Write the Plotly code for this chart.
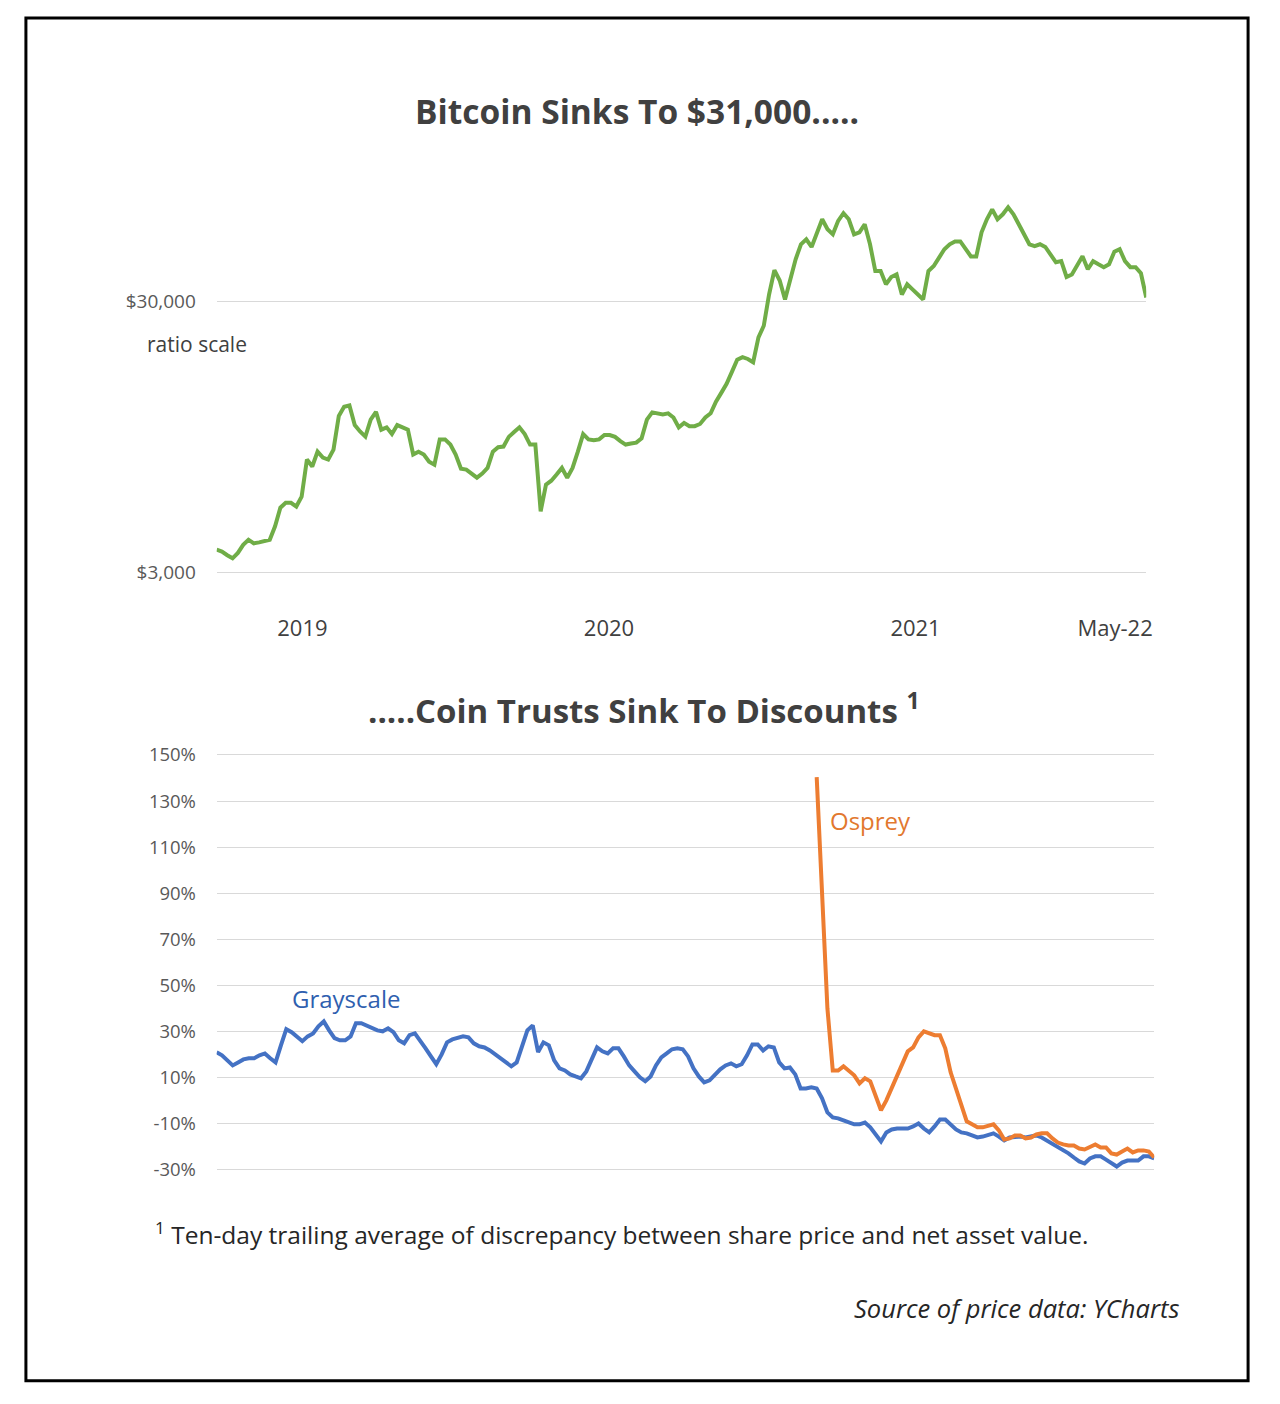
import plotly.graph_objects as go
import pandas as pd

# ---------------- data ----------------
weeks = pd.date_range("2019-01-03", periods=176, freq="7D")

bitcoin = [
    3650, 3590, 3480, 3390, 3550, 3800, 3970, 3850, 3880, 3930,
    3970, 4450, 5210, 5430, 5430, 5260, 5720, 7840, 7390, 8380,
    7970, 7840, 8530, 11350, 12260, 12400, 10500, 9950, 9520, 11000,
    11750, 10100, 10300, 9730, 10500, 10300, 10100, 8180, 8380, 8180,
    7700, 7500, 9300, 9300, 8900, 8180, 7250, 7200, 6960, 6720,
    6960, 7300, 8380, 8700, 8750, 9500, 9900, 10300, 9730, 8900,
    8900, 5050, 6330, 6550, 6900, 7300, 6720, 7300, 8380, 9730,
    9300, 9230, 9300, 9650, 9650, 9500, 9160, 8900, 8980, 9050,
    9380, 11000, 11700, 11600, 11500, 11600, 11200, 10300, 10700, 10400,
    10400, 10600, 11200, 11600, 12800, 13800, 14900, 16500, 18300, 18700,
    18400, 17900, 22100, 24400, 31800, 39100, 35800, 30500, 35800, 42900,
    48700, 50800, 47600, 53000, 60200, 55300, 53000, 59400, 63400, 60200,
    53000, 53900, 57700, 48700, 38800, 38800, 34700, 36900, 37700, 31800,
    34700, 33200, 31800, 30500, 38800, 40500, 43500, 46700, 48700, 49900,
    49900, 46700, 43900, 43900, 53900, 60200, 65500, 60200, 62800, 66600,
    62800, 57700, 53000, 48700, 47900, 48700, 47600, 44300, 41800, 42200,
    36900, 37700, 41100, 44000, 39400, 42200, 41100, 40100, 41100, 45700,
    46700, 42200, 40100, 40100, 38100, 31000,
]

grayscale = [
    20.9, 19.6, 17.4, 15.2, 16.5, 17.8, 18.3, 18.3, 19.6, 20.4,
    18.3, 16.5, 23.9, 30.9, 29.6, 27.4, 25.7, 27.8, 29.1, 32.2,
    34.3, 30.4, 27.0, 26.1, 26.1, 27.8, 33.5, 33.5, 32.6, 31.3,
    30.4, 30.0, 31.3, 29.6, 26.1, 24.8, 28.3, 29.1, 26.1, 22.6,
    19.1, 15.7, 20.0, 25.2, 26.5, 27.0, 27.8, 27.4, 24.8, 23.5,
    23.0, 21.7, 20.0, 18.7, 16.5, 14.8, 16.5, 23.9, 30.4, 32.6,
    21.0, 25.2, 23.9, 17.4, 13.9, 13.0, 11.3, 10.4, 9.6, 12.6,
    18.3, 23.0, 21.3, 20.4, 22.6, 22.6, 19.1, 15.2, 12.6, 10.0,
    8.3, 10.4, 15.2, 18.7, 20.4, 22.2, 22.6, 22.2, 19.1, 13.9,
    10.4, 7.8, 8.7, 11.3, 13.5, 15.2, 16.1, 14.8, 15.7, 19.6,
    24.3, 24.3, 21.7, 23.5, 23.0, 16.5, 13.9, 14.3, 11.3, 5.2,
    5.2, 5.7, 5.2, 0.9, -5.2, -7.4, -7.8, -8.7, -9.6, -10.4,
    -10.4, -9.6, -11.7, -14.8, -17.8, -13.9, -12.6, -12.2, -12.2, -12.2,
    -11.3, -10.0, -12.2, -13.9, -11.3, -8.3, -8.3, -10.4, -12.6, -13.9,
    -14.3, -15.2, -16.1, -15.7, -14.8, -14.3, -15.7, -17.4, -16.1, -15.7,
    -15.7, -16.1, -15.7, -15.2, -16.1, -17.4, -18.7, -20.0, -21.3, -23.0,
    -24.8, -26.5, -27.4, -25.2, -24.3, -24.3, -25.7, -27.4, -28.7, -27.0,
    -26.1, -26.1, -26.1, -24.3, -24.3, -25.2,
]

osprey_start = 112
osprey = [
    140.4, 90.0, 40.0, 13.0, 13.0, 14.8, 12.6, 10.9, 7.4, 9.6,
    8.3, 2.2, -4.3, 0.0, 5.2, 10.0, 15.7, 21.3, 23.0, 27.4,
    30.0, 29.1, 28.3, 28.3, 22.6, 12.2, 5.2, -2.2, -9.1, -10.4,
    -11.7, -11.7, -10.9, -10.4, -13.0, -17.0, -16.5, -15.2, -15.2, -16.5,
    -16.1, -14.8, -14.3, -14.3, -16.5, -18.3, -19.1, -19.6, -19.6, -20.9,
    -21.3, -20.0, -19.1, -20.4, -20.4, -23.0, -23.5, -22.2, -20.9, -22.6,
    -21.7, -21.7, -22.2, -24.8,
]

price_ticks = [3000, 30000]
price_tick_labels = ["$3,000", "$30,000"]
year_tick_dates = ["2019-04-26", "2020-06-03", "2021-07-12", "2022-04-01"]
year_tick_labels = ["2019", "2020", "2021", "May-22"]
pct_ticks = [-30, -10, 10, 30, 50, 70, 90, 110, 130, 150]
pct_tick_labels = [f"{v}%" for v in pct_ticks]

# ---------------- figure ----------------
# page has an 8px body margin, so the figure is 16px smaller than the window
OFF = 8
W, H = 1280 - 2 * OFF, 1404 - 2 * OFF
FONT = "Open Sans"
GREEN, BLUE, ORANGE = "#70AD47", "#4472C4", "#ED7D31"
GRID = "#D9D9D9"


def px(x):
    x = x + 4 * (x - 25) / 1225
    return (x - OFF) / W


def py(y):
    y = y - 3 * (1169 - y) / 867
    return 1 - (y - OFF) / H


fig = go.Figure()
fig.add_trace(go.Scatter(x=weeks, y=bitcoin, mode="lines",
                         line=dict(color=GREEN, width=4),
                         xaxis="x", yaxis="y", showlegend=False))
fig.add_trace(go.Scatter(x=weeks, y=grayscale, mode="lines",
                         line=dict(color=BLUE, width=4),
                         xaxis="x2", yaxis="y2", showlegend=False))
fig.add_trace(go.Scatter(x=weeks[osprey_start:], y=osprey, mode="lines",
                         line=dict(color=ORANGE, width=4),
                         xaxis="x2", yaxis="y2", showlegend=False))

fig.update_layout(
    width=W, height=H, autosize=False,
    margin=dict(l=0, r=0, t=0, b=0),
    paper_bgcolor="white", plot_bgcolor="white",
    font=dict(family=FONT, color="#404040"),
    xaxis=dict(domain=[px(217), px(1148)], range=[weeks[0], weeks[-1]],
               tickvals=year_tick_dates, ticktext=year_tick_labels,
               showgrid=False, zeroline=False, showline=False,
               ticks="outside", ticklen=19, tickcolor="rgba(0,0,0,0)",
               tickfont=dict(size=22, color="#404040")),
    yaxis=dict(domain=[py(590), py(180)], type="log",
               range=[3.41439, 4.9273],
               tickvals=price_ticks, ticktext=price_tick_labels,
               showgrid=True, gridcolor=GRID, gridwidth=1,
               zeroline=False, showline=False,
               ticks="outside", ticklen=16, tickcolor="rgba(0,0,0,0)",
               tickfont=dict(size=19, color="#595959")),
    xaxis2=dict(domain=[px(217), px(1156)], range=[weeks[0], weeks[-1]],
                showticklabels=False, showgrid=False, zeroline=False,
                showline=False, anchor="y2"),
    yaxis2=dict(domain=[py(1180), py(745)], range=[-34.78, 154.35],
                tickvals=pct_ticks, ticktext=pct_tick_labels,
                showgrid=True, gridcolor=GRID, gridwidth=1,
                zeroline=False, showline=False, anchor="x2",
                ticks="outside", ticklen=16, tickcolor="rgba(0,0,0,0)",
                tickfont=dict(size=18.5, color="#595959")),
)

ann = [
    dict(x=px(638), y=py(112), text="<b>Bitcoin Sinks To $31,000.....</b>",
         font=dict(size=33.5, color="#404040")),
    dict(x=px(645), y=py(709),
         text="<b>.....Coin Trusts Sink To Discounts <sup>1</sup></b>",
         font=dict(size=33, color="#404040")),
    dict(x=px(197), y=py(345), text="ratio scale",
         font=dict(size=21, color="#404040")),
    dict(x=px(347), y=py(998), text="Grayscale",
         font=dict(size=24, color="#2F5FAF")),
    dict(x=px(872), y=py(820), text="Osprey",
         font=dict(size=24, color="#E2782E")),
    dict(x=px(153), y=py(1233), xanchor="left",
         text="<sup>1</sup> Ten-day trailing average of discrepancy between share price and net asset value.",
         font=dict(size=24.5, color="#262626")),
    dict(x=px(1183), y=py(1307), xanchor="right",
         text="<i>Source of price data: YCharts</i>",
         font=dict(size=25.5, color="#262626")),
]
for a in ann:
    a.setdefault("xanchor", "center")
    fig.add_annotation(xref="paper", yref="paper", yanchor="middle",
                       showarrow=False, **a)

fig.add_shape(type="rect", xref="paper", yref="paper",
              x0=px(26), x1=px(1250), y0=py(1380), y1=py(19),
              line=dict(color="black", width=3), fillcolor="rgba(0,0,0,0)")

fig.write_html("out.html")
